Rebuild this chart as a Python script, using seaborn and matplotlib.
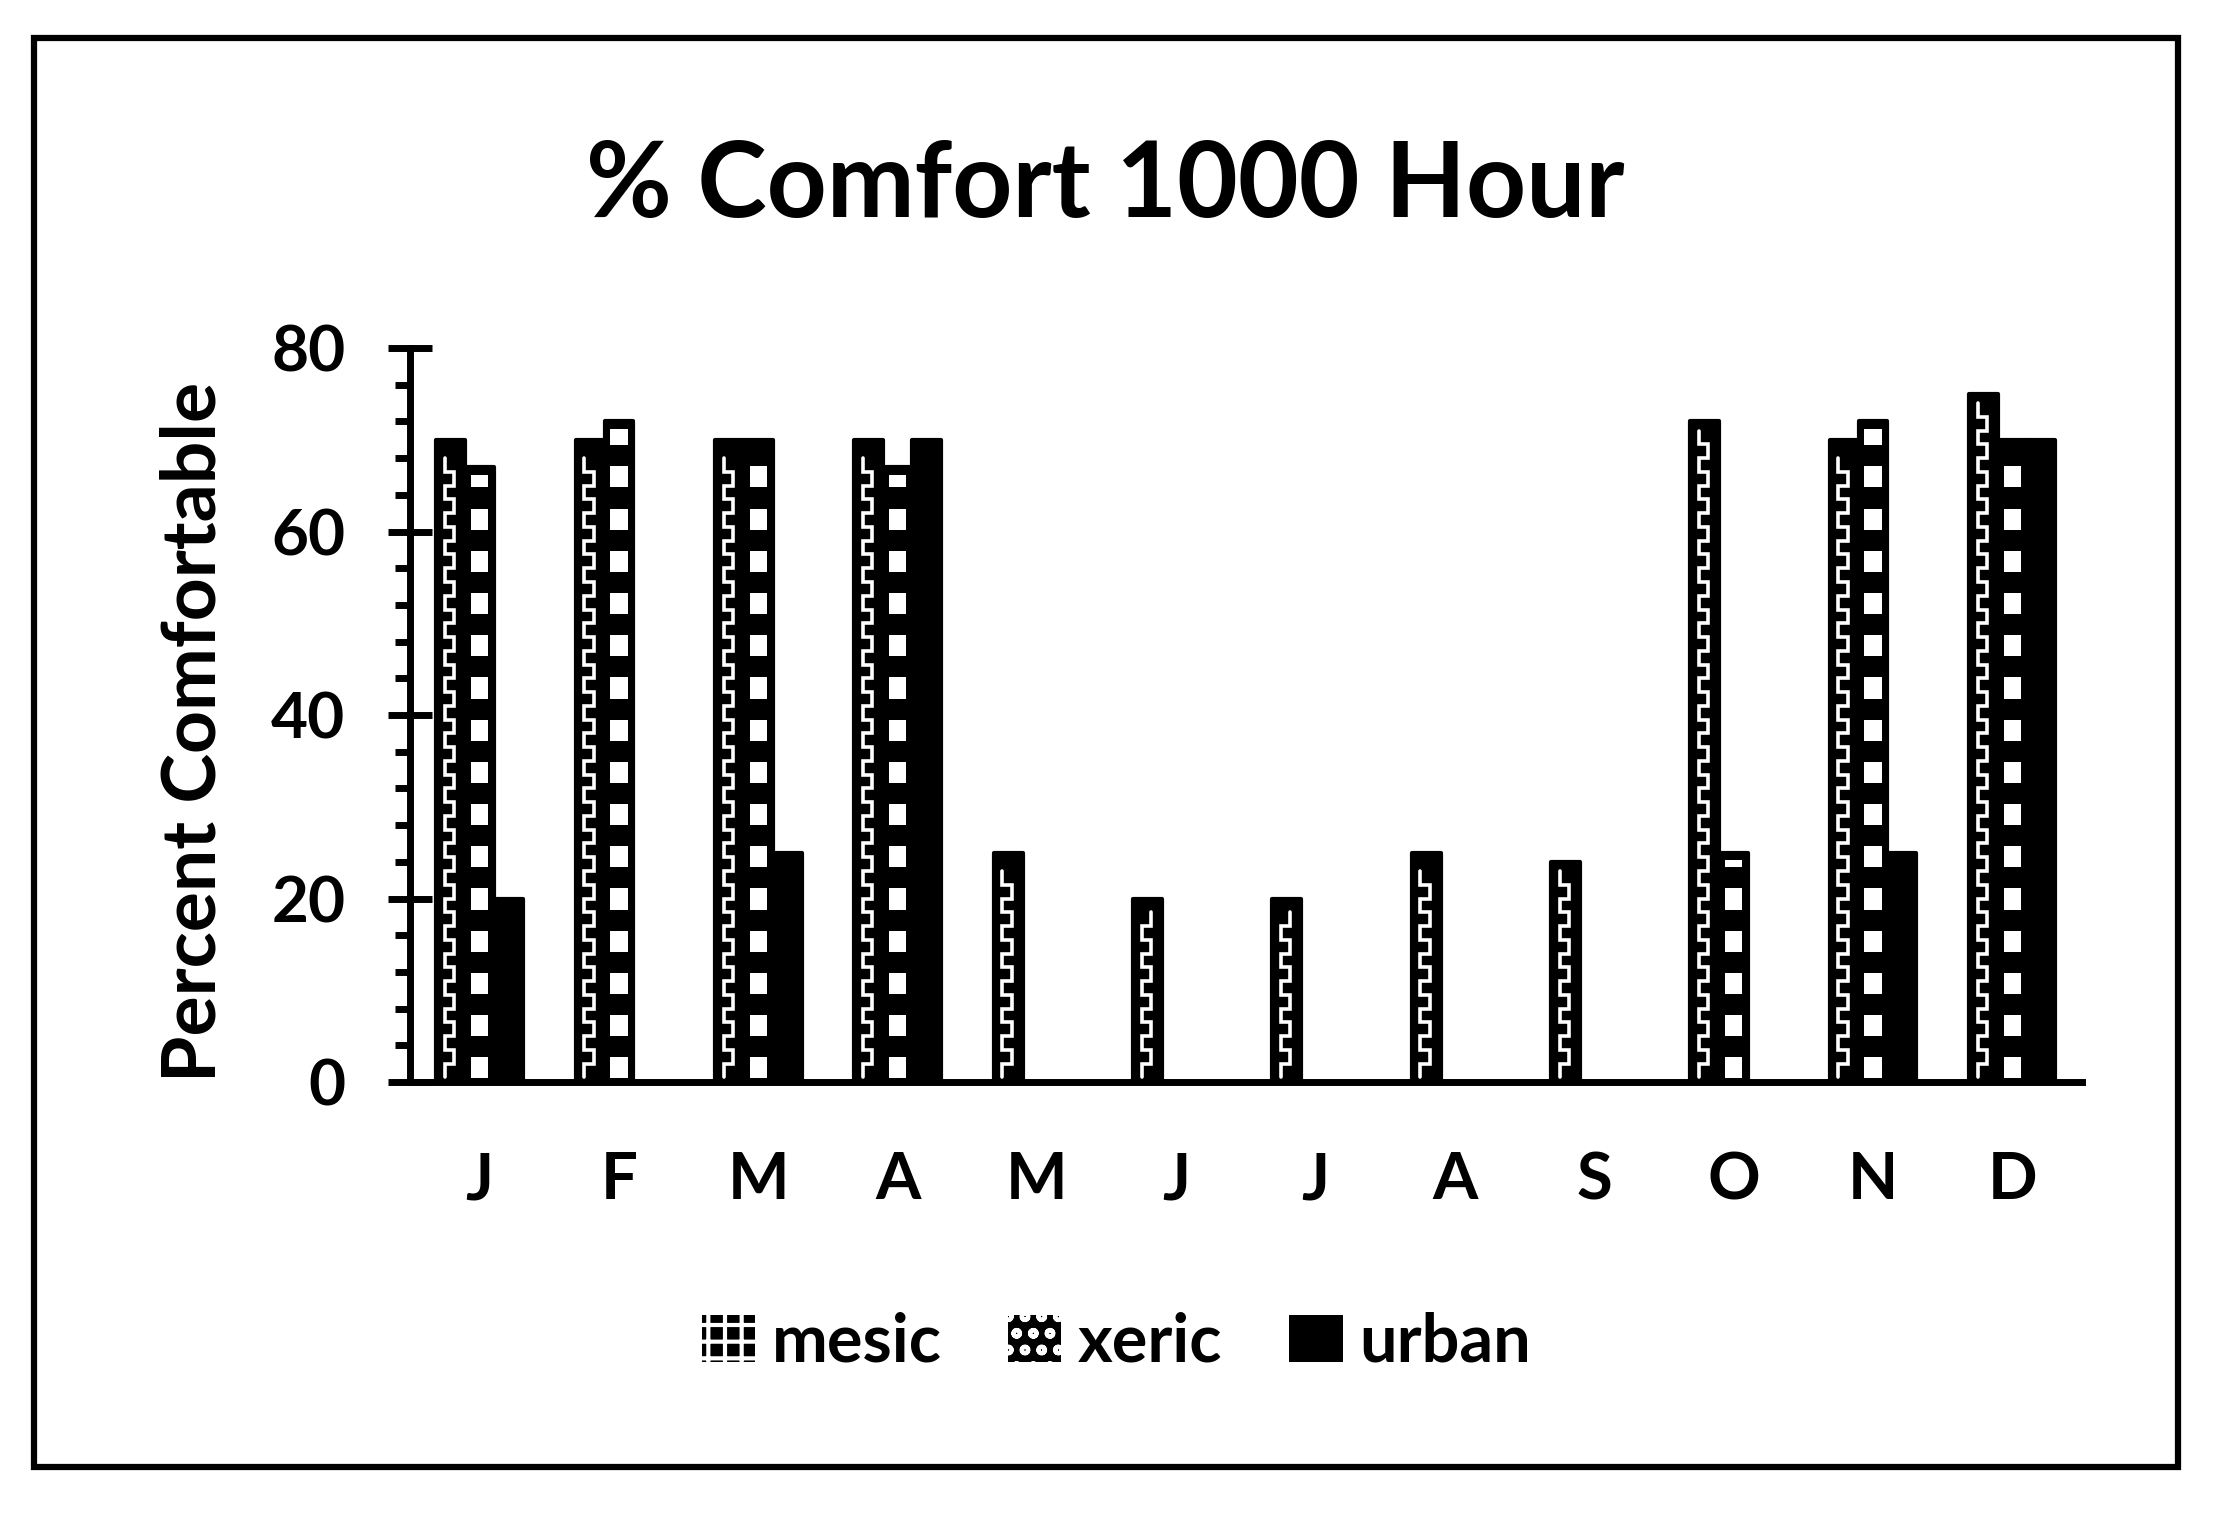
import numpy as np
import pandas as pd
import seaborn as sns
from matplotlib import pyplot as plt
from matplotlib.patches import Patch, Rectangle
from matplotlib.ticker import MultipleLocator

# data
month_keys = ["Jan", "Feb", "Mar", "Apr", "May", "Jun",
              "Jul", "Aug", "Sep", "Oct", "Nov", "Dec"]
month_labels = ["J", "F", "M", "A", "M", "J", "J", "A", "S", "O", "N", "D"]
series = ["mesic", "xeric", "urban"]
mesic = [70, 70, 70, 70, 25, 20, 20, 25, 24, 72, 70, 75]
xeric = [67, 72, 70, 67, 0, 0, 0, 0, 0, 25, 72, 70]
urban = [20, 0, 25, 70, 0, 0, 0, 0, 0, 0, 25, 70]
y_ticks = [0, 20, 40, 60, 80]


def plot_comfort():
    sns.set_theme(style="white")
    plt.rcParams["font.family"] = ["Lato", "DejaVu Sans"]
    plt.rcParams["text.color"] = "black"
    plt.rcParams["hatch.linewidth"] = 3.0

    df = pd.DataFrame({
        "month": month_keys * 3,
        "type": [s for s in series for _ in month_keys],
        "value": mesic + xeric + urban,
    })

    fig = plt.figure(figsize=(22.21, 15.27), dpi=100)
    ax = fig.add_axes([0.1846, 0.2914, 0.7528, 0.4807])

    sns.barplot(data=df, x="month", y="value", hue="type",
                order=month_keys, hue_order=series,
                palette=["black"] * 3, saturation=1, width=0.62,
                edgecolor="black", linewidth=3, legend=False, ax=ax)

    # fill patterns, drawn inside each bar from its own geometry
    for name, bars in zip(series, ax.containers):
        for rect in bars:
            rect.set_joinstyle("round")
            h = rect.get_height()
            w = rect.get_width()
            xc = rect.get_x() + w / 2
            if h <= 1 or name == "urban":
                continue
            if name == "mesic":
                p = 3.0
                xs, ys = [], []
                y = 0.5
                left = True
                while y + p / 2 < h - 0.6:
                    xa = xc - 0.2 * w if left else xc + 0.12 * w
                    xs += [xa, xa]
                    ys += [y, y + p / 2]
                    y += p / 2
                    left = not left
                ax.plot(xs, ys, color="white", lw=2.6,
                        solid_joinstyle="miter", zorder=3)
            else:
                for y0 in np.arange(0.4, h - 0.8, 4.6):
                    top = min(y0 + 2.3, h - 0.8)
                    ax.add_patch(Rectangle((xc - 0.3 * w, y0), 0.6 * w,
                                           top - y0, facecolor="white",
                                           edgecolor="none", zorder=3))

    ax.set_xlim(-0.5, len(month_keys) - 0.5)
    ax.set_ylim(0, 80)
    ax.set_yticks(y_ticks)
    ax.yaxis.set_minor_locator(MultipleLocator(4))
    ax.set_xticks(range(len(month_keys)))
    ax.set_xticklabels(month_labels)
    ax.set_xlabel("")
    ax.set_ylabel("")

    sns.despine(ax=ax)
    for side in ["left", "bottom"]:
        ax.spines[side].set_linewidth(5)
        ax.spines[side].set_color("black")

    ax.tick_params(axis="y", which="major", direction="inout", length=31,
                   width=5, color="black", pad=31, labelsize=46, left=True)
    ax.tick_params(axis="y", which="minor", direction="out", length=11,
                   width=5, color="black", left=True)
    ax.tick_params(axis="x", length=0, pad=50, labelsize=47)
    for lab in ax.get_xticklabels() + ax.get_yticklabels():
        lab.set_fontweight("bold")
        lab.set_color("black")

    fig.text(0.4975, 0.8775, "% Comfort 1000 Hour", ha="center", va="center",
             fontsize=75.5, fontweight="bold", color="black")
    fig.text(0.0873, 0.5206, "Percent Comfortable", ha="center", va="center",
             rotation=90, fontsize=54, fontweight="bold", color="black")

    handles = [
        Patch(facecolor="black", edgecolor="white", linewidth=0, hatch="+"),
        Patch(facecolor="black", edgecolor="white", linewidth=0, hatch="o"),
        Patch(facecolor="black", edgecolor="black", linewidth=0),
    ]
    fig.legend(handles, series, loc="center", bbox_to_anchor=(0.5026, 0.1205),
               ncol=3, frameon=False, prop={"size": 48, "weight": "bold"},
               labelcolor="black", handlelength=0.8, handleheight=0.7,
               handletextpad=0.25, columnspacing=1.0)

    fig.patches.append(Rectangle((0.0153, 0.0393), 0.9653, 0.9358,
                                 transform=fig.transFigure, fill=False,
                                 edgecolor="black", linewidth=4.5))

    fig.savefig("out.png", dpi=100, facecolor="white")


if __name__ == "__main__":
    plot_comfort()
